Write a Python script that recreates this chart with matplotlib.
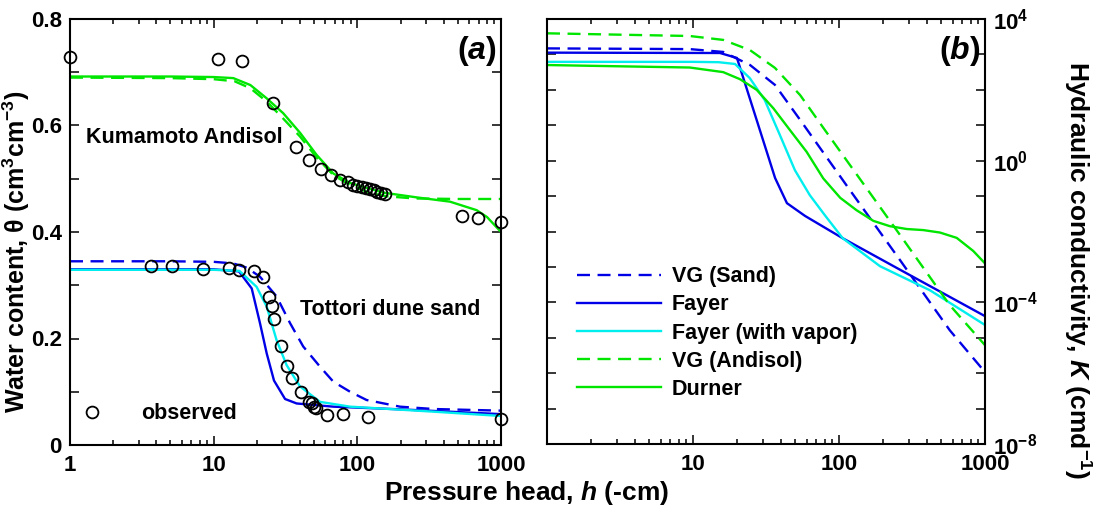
import numpy as np
import matplotlib
matplotlib.use("Agg")
import matplotlib.pyplot as plt
from matplotlib.ticker import FuncFormatter, LogLocator, MultipleLocator, NullLocator

plt.rcParams['font.family'] = ['Liberation Sans', 'DejaVu Sans']
plt.rcParams['font.weight'] = 'bold'
plt.rcParams['mathtext.fontset'] = 'custom'
plt.rcParams['mathtext.rm'] = 'Liberation Sans:bold'
plt.rcParams['mathtext.it'] = 'Liberation Sans:bold:italic'
plt.rcParams['mathtext.bf'] = 'Liberation Sans:bold'

BLUE = '#0000e6'
CYAN = '#00eeee'
GREEN = '#00e600'

# ---- (a) water retention ----
# observed, Kumamoto Andisol
obs_andisol_h = [1, 10.8, 15.8, 25.7, 37.2, 46, 55.6, 65.5, 75.6, 86.4, 93, 100, 107, 114,
                 122, 130, 138, 146, 155, 532, 695, 1000]
obs_andisol_th = [0.728, 0.725, 0.721, 0.642, 0.559, 0.535, 0.518, 0.507, 0.498, 0.493, 0.488,
                  0.486, 0.484, 0.482, 0.480, 0.478, 0.476, 0.474, 0.472, 0.430, 0.426, 0.418]
# observed, Tottori dune sand
obs_sand_h = [3.66, 5.15, 8.47, 12.8, 15.1, 19.1, 22.1, 24.1, 25.3, 26.4, 29.3, 32.2, 35.3,
              40.3, 46, 48.1, 49.9, 51.5, 61.1, 79.8, 119, 1000]
obs_sand_th = [0.337, 0.337, 0.330, 0.333, 0.329, 0.327, 0.316, 0.278, 0.261, 0.236, 0.185,
               0.148, 0.125, 0.100, 0.081, 0.078, 0.072, 0.069, 0.056, 0.059, 0.053, 0.048]

durner_h = [1, 5, 10, 13.7, 18, 23.4, 30.5, 40, 52, 68, 89, 151, 259, 441, 677, 800, 1000]
durner_th = [0.692, 0.692, 0.691, 0.689, 0.676, 0.651, 0.623, 0.586, 0.545, 0.510, 0.492,
             0.474, 0.465, 0.457, 0.441, 0.428, 0.400]
vga_h = [1, 5, 10, 14, 18, 23.4, 30, 40, 52, 68, 89, 120, 160, 250, 500, 1000]
vga_th = [0.690, 0.689, 0.687, 0.683, 0.670, 0.645, 0.615, 0.579, 0.540, 0.507, 0.488,
          0.474, 0.467, 0.463, 0.462, 0.462]
vgs_h = [1, 5, 10, 13.7, 17, 21, 27.4, 34, 42, 55, 68, 89, 116, 198, 339, 1000]
vgs_th = [0.345, 0.345, 0.344, 0.341, 0.333, 0.316, 0.279, 0.229, 0.185, 0.147, 0.119,
          0.100, 0.0845, 0.072, 0.0676, 0.0645]
fayer_h = [1, 10, 15, 18.4, 21, 23.4, 26.3, 31.4, 37.8, 68, 198, 1000]
fayer_th = [0.330, 0.330, 0.326, 0.294, 0.229, 0.172, 0.121, 0.0864, 0.078, 0.072, 0.067, 0.058]
vapor_h = [1, 10, 15.1, 19.9, 23.4, 27.4, 32.2, 39.9, 55, 89, 339, 1000]
vapor_th = [0.329, 0.329, 0.327, 0.297, 0.260, 0.197, 0.150, 0.110, 0.081, 0.072, 0.0626, 0.0545]

# ---- (b) hydraulic conductivity (log10 K) ----
k_vgs_h = [1, 9.5, 16.1, 24.6, 36.4, 54.2, 80.2, 118.7, 262, 574, 1000]
k_vgs_log = [3.17, 3.15, 3.07, 2.70, 2.14, 1.15, 0.16, -0.83, -2.81, -4.79, -5.97]
k_fayer_h = [1, 15.3, 20, 36.5, 44, 58.5, 106, 262, 576, 1000]
k_fayer_log = [3.05, 3.04, 2.90, -0.49, -1.20, -1.56, -2.19, -3.08, -3.85, -4.39]
k_vapor_h = [1, 10, 15, 19.4, 24.5, 31, 39.4, 49.9, 63, 80, 106, 191, 420, 1000]
k_vapor_log = [2.79, 2.79, 2.78, 2.73, 2.33, 1.71, 0.72, -0.27, -0.97, -1.54, -2.19, -2.98,
               -3.66, -4.64]
k_vga_h = [1, 9.5, 16.1, 24.6, 36.4, 54.2, 80.2, 118.7, 262, 574, 1000]
k_vga_log = [3.596, 3.52, 3.41, 3.12, 2.62, 1.85, 0.86, -0.12, -2.10, -4.08, -5.21]
k_durner_h = [1, 9.5, 16.1, 21, 27.3, 35.5, 46, 60, 78, 102, 132, 172, 223, 291, 378, 492,
              640, 831, 1000]
k_durner_log = [2.70, 2.63, 2.50, 2.30, 2.00, 1.48, 0.87, 0.25, -0.50, -1.05, -1.40, -1.70,
                -1.85, -1.93, -1.96, -2.03, -2.18, -2.55, -2.90]

W, H = 1093, 509
fig = plt.figure(figsize=(W / 100, H / 100), dpi=100)
ax1 = fig.add_axes([70 / W, 1 - 445 / H, 431 / W, 426 / H])
ax2 = fig.add_axes([547 / W, 1 - 444 / H, 438 / W, 425 / H])

lw = 1.7
dash = (5.5, 3.2)

# panel a
ax1.plot(vga_h, vga_th, color=GREEN, lw=lw, dashes=dash)
ax1.plot(durner_h, durner_th, color=GREEN, lw=lw)
ax1.plot(vgs_h, vgs_th, color=BLUE, lw=lw, dashes=dash)
ax1.plot(fayer_h, fayer_th, color=BLUE, lw=lw)
ax1.plot(vapor_h, vapor_th, color=CYAN, lw=lw)
ax1.plot(obs_andisol_h, obs_andisol_th, 'o', mfc='none', mec='black', ms=8.5, mew=1.3,
         clip_on=False)
obs, = ax1.plot(obs_sand_h, obs_sand_th, 'o', mfc='none', mec='black', ms=8.5, mew=1.3,
                clip_on=False, label='observed')

ax1.set_xscale('log')
ax1.set_xlim(1, 1000)
ax1.set_ylim(0, 0.8)
ax1.yaxis.set_major_locator(MultipleLocator(0.1))
ax1.yaxis.set_major_formatter(FuncFormatter(
    lambda v, p: ('0' if abs(v) < 1e-9 else f'{v:.1f}') if round(v * 10) % 2 == 0 else ''))
ax1.xaxis.set_major_formatter(FuncFormatter(lambda v, p: f'{v:g}'))
ax1.text(0.037, 0.723, 'Kumamoto Andisol', transform=ax1.transAxes, fontsize=15.5,
         va='center')
ax1.text(0.534, 0.319, 'Tottori dune sand', transform=ax1.transAxes, fontsize=15.5,
         va='center')
ax1.text(0.99, 0.925, '($\\mathit{a}$)', transform=ax1.transAxes, fontsize=23,
         ha='right', va='center')
ax1.legend(handles=[obs], loc='center left', bbox_to_anchor=(0.0, 0.073), frameon=False,
           fontsize=15.5, borderpad=0, borderaxespad=0, handlelength=2.0, handletextpad=1.3)

# panel b
ax2.plot(k_vgs_h, 10 ** np.array(k_vgs_log), color=BLUE, lw=lw, dashes=dash, label='VG (Sand)')
ax2.plot(k_fayer_h, 10 ** np.array(k_fayer_log), color=BLUE, lw=lw, label='Fayer')
ax2.plot(k_vapor_h, 10 ** np.array(k_vapor_log), color=CYAN, lw=lw, label='Fayer (with vapor)')
ax2.plot(k_vga_h, 10 ** np.array(k_vga_log), color=GREEN, lw=lw, dashes=dash,
         label='VG (Andisol)')
ax2.plot(k_durner_h, 10 ** np.array(k_durner_log), color=GREEN, lw=lw, label='Durner')
ax2.set_xscale('log')
ax2.set_yscale('log')
ax2.set_xlim(1, 1000)
ax2.set_ylim(1e-8, 1e4)
ax2.yaxis.set_major_locator(LogLocator(base=10, numticks=30))
ax2.yaxis.set_minor_locator(NullLocator())
ax2.yaxis.set_major_formatter(FuncFormatter(
    lambda v, p: ('$10^{%d}$' % round(np.log10(v))) if round(np.log10(v)) % 4 == 0 else ''))
ax2.xaxis.set_major_formatter(FuncFormatter(lambda v, p: '' if v < 5 else f'{v:g}'))
ax2.text(0.99, 0.925, '($\\mathit{b}$)', transform=ax2.transAxes, fontsize=23,
         ha='right', va='center')
ax2.legend(loc='upper left', bbox_to_anchor=(0.068, 0.418), frameon=False, fontsize=15.5,
           borderpad=0, borderaxespad=0, handlelength=3.9, handletextpad=0.5,
           labelspacing=0.33)

for ax in (ax1, ax2):
    for s in ax.spines.values():
        s.set_linewidth(1.5)
    ax.tick_params(which='both', direction='in', top=True, bottom=True, left=True, right=True,
                   labelsize=16, width=1.1)
    ax.tick_params(which='major', length=6.5, pad=6)
    ax.tick_params(which='minor', length=3.5)
    ax.tick_params(axis='x', which='major', pad=7)
ax2.tick_params(labelleft=False, labelright=True)

fig.text(16 / W, 1 - 252 / H, 'Water content, θ (cm$^3$cm$^{-3}$)', fontsize=18,
         rotation=90, ha='center', va='center')
fig.text(1077 / W, 1 - 270 / H, 'Hydraulic conductivity, $\\mathit{K}$ (cmd$^{-1}$)',
         fontsize=19, rotation=-90, ha='center', va='center')
fig.text(527 / W, 1 - 493 / H, 'Pressure head, $\\mathit{h}$ (-cm)', fontsize=19,
         ha='center', va='center')

fig.savefig('out.png', dpi=100)
